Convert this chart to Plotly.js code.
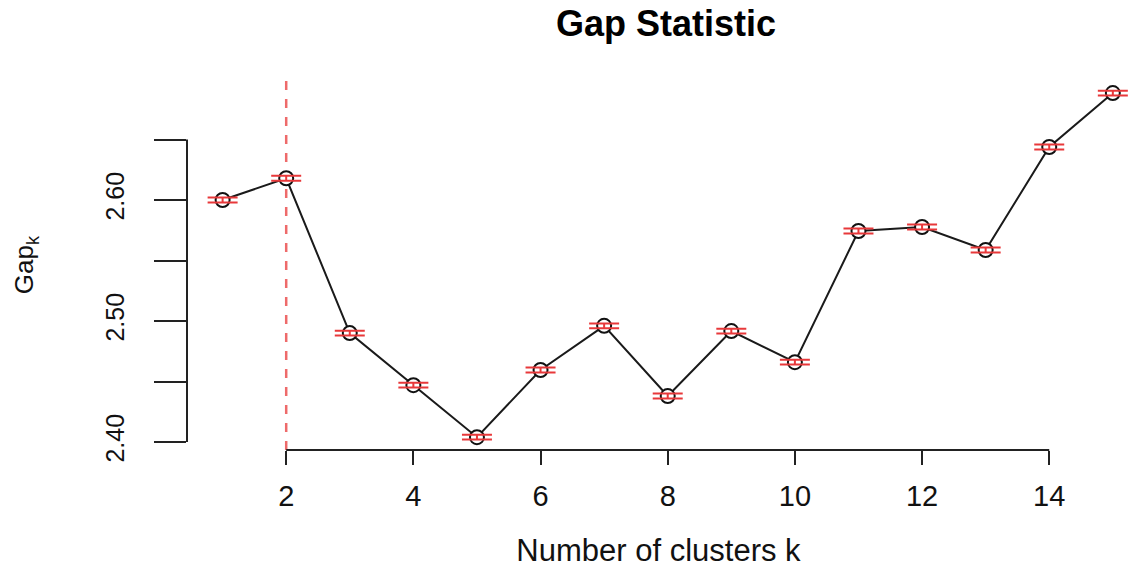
<!DOCTYPE html>
<html>
<head>
<meta charset="utf-8">
<script src="https://cdn.plot.ly/plotly-3.0.1.min.js"></script>
<style>
  html, body { margin: 0; padding: 0; background: #ffffff; }
  #chart { width: 1130px; height: 568px; }
</style>
</head>
<body>
<div id="chart"></div>
<script>
// ---- data ----
const clusters = [1, 2, 3, 4, 5, 6, 7, 8, 9, 10, 11, 12, 13, 14, 15];
const gapValues = [2.600, 2.618, 2.490, 2.447, 2.404, 2.4595, 2.496, 2.438, 2.4917, 2.466, 2.5744, 2.5777, 2.5587, 2.6438, 2.6884];
const gapSE = [0.002, 0.002, 0.002, 0.002, 0.002, 0.002, 0.002, 0.002, 0.002, 0.002, 0.002, 0.002, 0.002, 0.002, 0.002];
const optimalK = 2;
const xTickVals = [2, 4, 6, 8, 10, 12, 14];
const xTickText = ['2', '4', '6', '8', '10', '12', '14'];
const yTickVals = [2.40, 2.50, 2.60];
const yTickText = ['2.40', '2.50', '2.60'];
const yMinorStep = 0.05;
const yAxisSpan = [2.40, 2.65];

const FONT = 'Liberation Sans, Arial, Helvetica, sans-serif';

const lineTrace = {
  x: clusters, y: gapValues,
  type: 'scatter', mode: 'lines',
  line: { color: '#1a1a1a', width: 2 },
  hoverinfo: 'skip', showlegend: false
};
const markerTrace = {
  x: clusters, y: gapValues,
  type: 'scatter', mode: 'markers',
  marker: { symbol: 'circle', size: 14, color: '#ffffff', line: { color: '#111111', width: 2 } },
  showlegend: false
};
const errTrace = {
  x: clusters, y: gapValues,
  type: 'scatter', mode: 'markers',
  marker: { size: 1, color: 'rgba(0,0,0,0)' },
  error_y: { type: 'data', array: gapSE, visible: true, color: '#e8383a', thickness: 2, width: 15 },
  showlegend: false, hoverinfo: 'skip'
};

const layout = {
  width: 1130, height: 568,
  margin: { l: 187, r: 0, t: 80, b: 118, pad: 0 },
  paper_bgcolor: '#ffffff', plot_bgcolor: '#ffffff',
  font: { family: FONT, color: '#000000' },
  showlegend: false,
  title: {
    text: '<b>Gap Statistic</b>',
    font: { family: FONT, size: 36, color: '#000000' },
    xref: 'paper', x: 0.508, xanchor: 'center',
    yref: 'container', y: 0.958, yanchor: 'middle'
  },
  xaxis: {
    range: [0.44, 15.27],
    tickmode: 'array', tickvals: xTickVals, ticktext: xTickText,
    ticks: 'outside', ticklen: 14, tickwidth: 2, tickcolor: '#222222',
    showline: false, showgrid: false, zeroline: false,
    tickfont: { family: FONT, size: 29, color: '#111111' },
    ticklabelstandoff: 6,
    title: { text: 'Number of clusters k', standoff: 28,
             font: { family: FONT, size: 31, color: '#111111' } }
  },
  yaxis: {
    range: [2.3934, 2.6992],
    tickmode: 'array', tickvals: yTickVals, ticktext: yTickText,
    ticks: 'outside', ticklen: 32, tickwidth: 2, tickcolor: '#222222',
    minor: { tickmode: 'linear', tick0: yTickVals[0], dtick: yMinorStep,
             ticks: 'outside', ticklen: 32, tickwidth: 2, tickcolor: '#222222', showgrid: false },
    tickangle: -90,
    showline: false, showgrid: false, zeroline: false,
    tickfont: { family: FONT, size: 25, color: '#111111' },
    ticklabelstandoff: 20,
    title: { text: 'Gap<sub>k</sub>', standoff: 59,
             font: { family: FONT, size: 26, color: '#111111' } }
  },
  shapes: [
    // R-style axis lines spanning only first..last tick
    { type: 'line', xref: 'paper', yref: 'y', x0: 0, x1: 0,
      y0: yAxisSpan[0], y1: yAxisSpan[1],
      line: { color: '#222222', width: 2 } },
    { type: 'line', xref: 'x', yref: 'paper', y0: 0, y1: 0,
      x0: xTickVals[0], x1: xTickVals[xTickVals.length - 1],
      line: { color: '#222222', width: 2 } },
    // optimal k marker line
    { type: 'line', xref: 'x', yref: 'paper', x0: optimalK, x1: optimalK, y0: 0, y1: 1,
      line: { color: '#ee6a6a', width: 2.5, dash: 'dash' }, layer: 'below' }
  ]
};

Plotly.newPlot('chart', [lineTrace, markerTrace, errTrace], layout, { displayModeBar: false, staticPlot: true });
</script>
</body>
</html>
